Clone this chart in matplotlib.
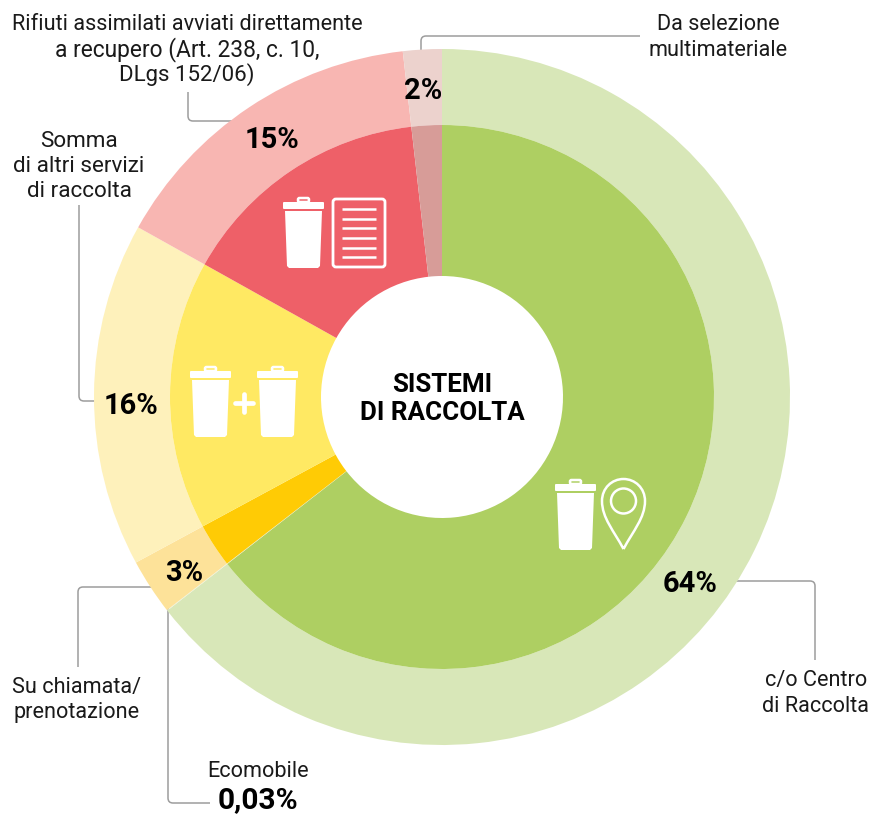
import matplotlib
matplotlib.use("Agg")
import matplotlib.pyplot as plt
from matplotlib.patches import Circle, FancyBboxPatch, PathPatch, Polygon
from matplotlib.path import Path

plt.rcParams['font.family'] = ['Roboto', 'DejaVu Sans']

#valori
outer_values = [64.5, 0.03, 2.6, 16, 15.1, 1.8]
inner_values = [64.5, 0.03, 2.6, 16, 15.1, 1.8]
outer_colors = ['#d8e7b8', '#edf1d5', '#fde299', '#fef1bb', '#f8b6b2', '#ecd2cd']
inner_colors = ['#aecf62', '#e6ebc8', '#ffcb05', '#ffe963', '#ee6068', '#d79c98']
percent_labels = ['64%', '3%', '16%', '15%', '2%']
percent_x = [690, 184, 131, 272, 423]
percent_y = [592, 581, 414, 148, 99]

#etichette: testo, x centrale, linea di base
label_lines = [
    ("Rifiuti assimilati avviati direttamente", 187, 30, 15.6),
    ("a recupero (Art. 238, c. 10,", 187, 56, 16.4),
    ("DLgs 152/06)", 187, 81, 16),
    ("Da selezione", 718.5, 30, 15.6),
    ("multimateriale", 718.5, 56, 15.6),
    ("Somma", 79, 147, 16.2),
    ("di altri servizi", 79, 172, 16.2),
    ("di raccolta", 79, 197, 16.2),
    ("Su chiamata/", 77, 693, 15.6),
    ("prenotazione", 77, 718, 15.6),
    ("c/o Centro", 816, 686, 15.6),
    ("di Raccolta", 816, 712, 15.6),
    ("Ecomobile", 258, 777, 15.6),
]

W, H = 882, 814
CX, CY = 442, 397
GREY = '#9d9d9d'


def Y(y):
    return H - y


def trash(ax, x, y):
    # x,y = angolo in alto a sinistra del coperchio
    ax.add_patch(FancyBboxPatch((x + 15, Y(y)), 11, 4, boxstyle="round,pad=0,rounding_size=1.5",
                                fc='none', ec='white', lw=1.8, zorder=5))
    ax.add_patch(FancyBboxPatch((x, Y(y + 7)), 41, 7, boxstyle="round,pad=0,rounding_size=1",
                                fc='white', ec='none', zorder=5))
    ax.add_patch(Polygon([(x + 2, Y(y + 9)), (x + 39, Y(y + 9)), (x + 37, Y(y + 64)), (x + 35, Y(y + 66)),
                          (x + 6, Y(y + 66)), (x + 4, Y(y + 64))], fc='white', ec='none', zorder=5))


def leader(ax, pts, r=5):
    # polilinea con angoli arrotondati
    verts = [(pts[0][0], Y(pts[0][1]))]
    codes = [Path.MOVETO]
    for i in range(1, len(pts) - 1):
        px, py = pts[i]
        ax0, ay0 = pts[i - 1]
        bx, by = pts[i + 1]
        d1 = ((ax0 - px) ** 2 + (ay0 - py) ** 2) ** 0.5
        d2 = ((bx - px) ** 2 + (by - py) ** 2) ** 0.5
        verts.append((px + (ax0 - px) * r / d1, Y(py + (ay0 - py) * r / d1)))
        codes.append(Path.LINETO)
        verts.append((px, Y(py)))
        codes.append(Path.CURVE3)
        verts.append((px + (bx - px) * r / d2, Y(py + (by - py) * r / d2)))
        codes.append(Path.CURVE3)
    verts.append((pts[-1][0], Y(pts[-1][1])))
    codes.append(Path.LINETO)
    # sotto la torta: la linea si ferma al bordo dell'anello
    ax.add_patch(PathPatch(Path(verts, codes), fc='none', ec=GREY, lw=1.1, zorder=0.5))


fig = plt.figure(figsize=(W / 100, H / 100), dpi=100)
ax = fig.add_axes([0, 0, 1, 1])

ax.pie(outer_values, colors=outer_colors, startangle=90, counterclock=False, radius=348,
       center=(CX, Y(CY)), wedgeprops=dict(width=76, lw=0), normalize=True)
ax.pie(inner_values, colors=inner_colors, startangle=90, counterclock=False, radius=272,
       center=(CX, Y(CY)), wedgeprops=dict(width=151, lw=0), normalize=True)
ax.set_xlim(0, W)
ax.set_ylim(0, H)
ax.set_aspect('equal')
ax.axis('off')

#icone
trash(ax, 283, 202)
ax.add_patch(FancyBboxPatch((333, Y(267)), 52, 68, boxstyle="round,pad=0,rounding_size=3",
                            fc='none', ec='white', lw=2, zorder=5))
for yy in [209, 218.5, 228, 238, 247.5, 257]:
    ax.plot([342, 376], [Y(yy), Y(yy)], color='white', lw=1.8, zorder=5, solid_capstyle='butt')
trash(ax, 190, 371)
trash(ax, 257, 371)
ax.plot([235, 253], [Y(403), Y(403)], color='white', lw=3.4, zorder=5, solid_capstyle='round')
ax.plot([244, 244], [Y(394), Y(412)], color='white', lw=3.4, zorder=5, solid_capstyle='round')
trash(ax, 555, 484)

pin = Path([(623.5, Y(549)), (614, Y(531)), (602, Y(518)), (602, Y(501)),
            (602, Y(488)), (612, Y(479)), (623.5, Y(479)),
            (635, Y(479)), (645, Y(488)), (645, Y(501)),
            (645, Y(518)), (633, Y(531)), (623.5, Y(549))],
           [Path.MOVETO] + [Path.CURVE4] * 12)
ax.add_patch(PathPatch(pin, fc='none', ec='white', lw=1.8, zorder=5))
ax.add_patch(Circle((623.5, Y(501)), 12.5, fc='none', ec='white', lw=1.8, zorder=5))

#linee di richiamo
leader(ax, [(188, 92), (188, 121), (240, 121)])
leader(ax, [(421, 60), (421, 36), (640, 36)])
leader(ax, [(79, 205), (79, 401), (104, 401)])
leader(ax, [(78, 667), (78, 587), (155, 587)])
leader(ax, [(168, 600), (168, 803), (210, 803)])
leader(ax, [(725, 581), (815, 581), (815, 660)])

#percentuali
for lab, x, y in zip(percent_labels, percent_x, percent_y):
    ax.text(x, Y(y), lab, ha='center', va='baseline', fontsize=21, fontweight='bold', color='black', zorder=6)

ax.text(442, Y(392), "SISTEMI", ha='center', va='baseline', fontsize=18.7, fontweight='bold', zorder=6)
ax.text(442, Y(420), "DI RACCOLTA", ha='center', va='baseline', fontsize=18.7, fontweight='bold', zorder=6)

#etichette
for txt, x, y, fs in label_lines:
    ax.text(x, Y(y), txt, ha='center', va='baseline', fontsize=fs, color='#1a1a1a')
ax.text(258, Y(808), "0,03%", ha='center', va='baseline', fontsize=21.5, fontweight='bold')

fig.savefig('out.png', dpi=100, facecolor='white')
